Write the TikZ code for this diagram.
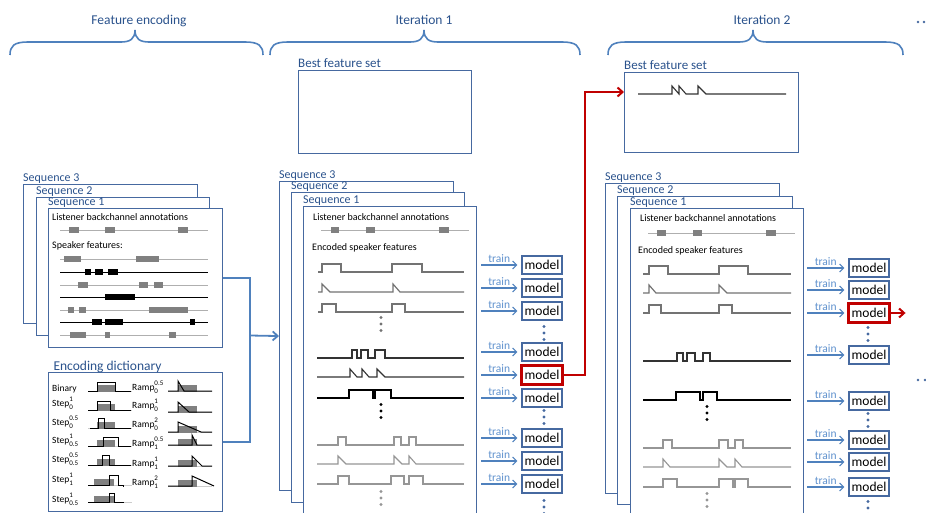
\documentclass[tikz,border=0pt]{standalone}
\usepackage{fontspec}
\setmainfont{Carlito}
\usetikzlibrary{arrows.meta,positioning}

\definecolor{braceblue}{RGB}{79,129,189}
\definecolor{titleblue}{RGB}{42,82,140}
\definecolor{boxblue}{RGB}{70,105,160}
\definecolor{trainblue}{RGB}{95,145,205}
\definecolor{darkred}{RGB}{192,0,0}
\definecolor{bargray}{RGB}{128,128,128}
\definecolor{linegray}{RGB}{175,175,175}
\definecolor{rowgray}{RGB}{115,115,115}
\definecolor{lightrow}{RGB}{150,150,150}

\newcommand\supsub[2]{\makebox[0pt][l]{\raisebox{4.5pt}{\fontsize{7}{8}\selectfont#1}}\raisebox{-3pt}{\fontsize{7}{8}\selectfont#2}}

\begin{document}
\begin{tikzpicture}[x=1pt,y=-1pt,
  brace/.style={draw=braceblue,line width=1.6pt},
  heading/.style={text=titleblue,font=\fontsize{13.5}{16}\selectfont,anchor=base},
  seqbox/.style={draw=boxblue,line width=1.1pt,fill=white,anchor=north west,inner sep=0pt},
  seqlabel/.style={text=titleblue,font=\fontsize{12}{14}\selectfont,anchor=base west,inner sep=0pt},
  boxtext/.style={font=\fontsize{10}{12}\selectfont,anchor=west,inner sep=0pt},
  dicttext/.style={font=\fontsize{9.5}{11}\selectfont,anchor=base west,inner sep=0pt},
  model/.style={draw=boxblue,line width=1.1pt,fill=white,minimum width=40pt,minimum height=18pt,inner sep=1pt,font=\fontsize{13.5}{16}\selectfont},
  chosen/.style={draw=darkred,line width=2.2pt},
  train/.style={draw=braceblue,line width=1.2pt,-{Straight Barb[length=4pt,width=8pt]},shorten >=4pt},
  trainlabel/.style={text=trainblue,font=\fontsize{11.5}{13}\selectfont,above,inner sep=1.5pt,pos=0.45},
  link/.style={draw=braceblue,line width=1.8pt},
  redlink/.style={draw=darkred,line width=2pt,-{Straight Barb[length=5pt,width=9pt]}},
  graysig/.style={draw=rowgray,line width=1.2pt},
  darksig/.style={draw=black!80,line width=1.1pt},
  boldsig/.style={draw=black,line width=1.6pt},
  lightsig/.style={draw=lightrow,line width=1.1pt},
]
\useasboundingbox (0,0) rectangle (926,513);

%Helper macros
\def\topbrace#1#2#3{\draw[brace] (#1,55) .. controls (#1,46) and ({#1+4},42) .. ({#1+18},42) -- ({#2-14},42) .. controls ({#2-5},42) and (#2,39) .. (#2,30) .. controls (#2,39) and ({#2+5},42) .. ({#2+14},42) -- ({#3-18},42) .. controls ({#3-4},42) and (#3,46) .. (#3,55);}
\def\barline#1#2#3#4#5#6{\draw[#4,line width=1pt] (#2,#1) -- (#3,#1);
  \foreach \p/\q in {#6} {\fill[#5] (\p,{#1-2.6}) rectangle (\q,{#1+2.6});}}
\def\steprow#1#2#3#4#5{\draw[#1] (#3,#2) foreach \p/\q in {#5} {-- (\p,#2) -- (\p,{#2-8}) -- (\q,{#2-8}) -- (\q,#2)} -- (#4,#2);}
\def\ramprow#1#2#3#4#5{\draw[#1] (#3,#2) foreach \p/\q in {#5} {-- (\p,#2) -- (\p,{#2-8}) -- (\q,#2)} -- (#4,#2);}
\def\threedots#1#2#3{\foreach \k in {-6.5,0,6.5} {\fill[#1] (#2,{#3+\k}) circle (1.6);}}
\def\dicticon#1#2#3#4#5{\begin{scope}[shift={(#1,#2)}]
  \draw[gray!40,line width=1pt] (0,0) -- (44,0);
  \fill[bargray] (#3,-6) rectangle (#4,1);
  \draw[line width=1pt] #5;
  \end{scope}}

%Headings and braces
\node[heading] (fehead) at (139,25) {Feature encoding};
\node[heading] (it1head) at (424,25) {Iteration 1};
\node[heading] (it2head) at (762,25) {Iteration 2};
\topbrace{10}{135}{263}
\topbrace{270}{424}{580}
\topbrace{608}{753}{903}
\fill[boxblue] (918,22) circle (1.4) (924,22) circle (1.4);

%Feature encoding: sequences
\node[seqbox,minimum width=174pt,minimum height=139pt] (fe3) at (23,184) {};
\node[seqlabel] at ([yshift=2.5pt]fe3.north west) {Sequence 3};
\node[seqbox,minimum width=173pt,minimum height=138pt] (fe2) at (36,197) {};
\node[seqlabel] at ([yshift=2.5pt]fe2.north west) {Sequence 2};
\node[seqbox,minimum width=174pt,minimum height=139pt] (fe1) at (48,208) {};
\node[seqlabel] at ([yshift=2.5pt]fe1.north west) {Sequence 1};
\node[boxtext] (feann) at (52,217) {Listener backchannel annotations};
\barline{230}{60}{208}{linegray}{bargray}{69/79,105/115,178/188}
\node[boxtext] (fespk) at (52,246) {Speaker features:};
\barline{259}{60}{208}{linegray}{bargray}{64/81,136/159}
\barline{272}{60}{208}{black}{black}{85/91,95/103,108/118}
\barline{285}{60}{208}{linegray}{bargray}{78/88,139/148,154/163}
\barline{297}{60}{208}{black}{black}{105/135}
\barline{310}{60}{208}{linegray}{bargray}{68/74,79/86,149/188}
\barline{322}{60}{208}{black}{black}{92/102,105/123,190/195}
\barline{335}{60}{208}{linegray}{bargray}{70/86,105/110,169/176}

%Encoding dictionary
\node[seqbox,minimum width=174pt,minimum height=139pt] (dict) at (48,372) {};
\node[heading,anchor=base west] (dicthead) at (50,370) {Encoding dictionary};
\node[dicttext] at (52,391) {Binary};
\node[dicttext] at (52,406) {Step\supsub{1}{0}};
\node[dicttext] at (52,425) {Step\supsub{0.5}{0}};
\node[dicttext] at (52,443) {Step\supsub{1}{0.5}};
\node[dicttext] at (52,462) {Step\supsub{0.5}{0.5}};
\node[dicttext] at (52,482) {Step\supsub{1}{1}};
\node[dicttext] at (52,502) {Step\supsub{1}{0.5}};
\node[dicttext] at (132,390) {Ramp\supsub{0.5}{0}};
\node[dicttext] at (132,408) {Ramp\supsub{1}{0}};
\node[dicttext] at (132,427) {Ramp\supsub{2}{0}};
\node[dicttext] at (132,446) {Ramp\supsub{0.5}{1}};
\node[dicttext] at (132,466) {Ramp\supsub{1}{1}};
\node[dicttext] at (132,485) {Ramp\supsub{2}{1}};
\dicticon{88}{391}{9}{27}{(0,0) -- (9,0) -- (9,-9) -- (27,-9) -- (27,0) -- (43,0)}
\dicticon{88}{410}{9}{27}{(0,0) -- (9,0) -- (9,-9) -- (22,-9) -- (22,0) -- (43,0)}
\dicticon{88}{428}{9}{27}{(2,0) -- (10,0) -- (10,-10) -- (16,-10) -- (16,0) -- (43,0)}
\dicticon{88}{446}{9}{27}{(0,0) -- (15,0) -- (15,-9) -- (30,-9) -- (30,0) -- (43,0)}
\dicticon{88}{465}{9}{27}{(0,0) -- (14,0) -- (14,-10) -- (21,-10) -- (21,0) -- (43,0)}
\dicticon{88}{485}{6}{26}{(0,0) -- (21,0) -- (21,-10) -- (30,-10) -- (30,0) -- (35,0) -- (35,2)}
\dicticon{88}{502}{6}{26}{(0,0) -- (21,0) -- (21,-9) -- (26,-9) -- (26,0) -- (36,0)}
\dicticon{168}{391}{10}{29}{(0,0) -- (10,0) -- (10,-10) -- (16,0) -- (44,0)}
\dicticon{168}{412}{10}{29}{(0,0) -- (10,0) -- (10,-10) -- (21,0) -- (44,0)}
\dicticon{168}{432}{10}{29}{(0,0) -- (10,0) -- (10,-10) -- (33,0) -- (44,0)}
\dicticon{168}{445}{10}{29}{(0,0) -- (24,0) -- (24,-10) -- (29,0) -- (44,0)}
\dicticon{168}{466}{10}{29}{(0,0) -- (24,0) -- (24,-10) -- (34,0) -- (44,0)}
\dicticon{168}{486}{10}{29}{(0,0) -- (24,0) -- (24,-10) -- (46,0)}

%Iteration 1
\node[seqbox,minimum width=173pt,minimum height=83pt] (best1) at (298,70) {};
\node[seqlabel,font=\fontsize{13}{15}\selectfont] at ([yshift=2pt]best1.north west) {Best feature set};
\node[seqbox,minimum width=174pt,minimum height=309pt] (it1s3) at (279,181) {};
\node[seqlabel] at ([yshift=2.5pt]it1s3.north west) {Sequence 3};
\node[seqbox,minimum width=173pt,minimum height=310pt] (it1s2) at (291,192) {};
\node[seqlabel] at ([yshift=2.5pt]it1s2.north west) {Sequence 2};
\node[seqbox,minimum width=173pt,minimum height=330pt] (it1s1) at (303,206) {};
\node[seqlabel] at ([yshift=2.5pt]it1s1.north west) {Sequence 1};
\node[boxtext] (it1ann) at (313,217) {Listener backchannel annotations};
\barline{230}{321}{469}{linegray}{bargray}{331/339,366/375,439/449}
\node[boxtext] (it1enc) at (312,248) {Encoded speaker features};
\steprow{graysig}{272}{318}{464}{322/341,392/422}
\ramprow{graysig}{292}{318}{464}{322/330,393/400}
\steprow{graysig}{312}{318}{464}{322/336,392/405}
\threedots{rowgray}{381}{324}
\steprow{darksig}{358}{317}{464}{352/357,361/368,375/385}
\ramprow{darksig}{377}{317}{464}{350/357,362/369,377/385}
\steprow{boldsig}{398}{317}{464}{349/373,375/391}
\threedots{black}{381}{411}
\steprow{lightsig}{445}{317}{464}{338/346,394/401,409/416}
\ramprow{lightsig}{464}{317}{464}{338/346,394/402,409/416}
\steprow{lightsig}{484}{317}{464}{338/349,391/404,409/423}
\threedots{lightrow}{381}{498}

%Iteration 1 models
\foreach \y [count=\i] in {265,288,311,352,375,398,438,461,484} {
  \node[model] (m1\i) at (542,\y) {model};
  \coordinate (t1\i) at (481,\y);
  \draw[train] (t1\i) -- node[trainlabel] {train} (m1\i);
}
\draw[chosen] (m15.south west) rectangle (m15.north east);
\threedots{boxblue}{544}{333}
\threedots{boxblue}{544}{417}
\threedots{boxblue}{544}{507}

%Iteration 2
\node[seqbox,minimum width=174pt,minimum height=80pt] (best2) at (624,72) {};
\node[seqlabel,font=\fontsize{13}{15}\selectfont] at ([yshift=2pt]best2.north west) {Best feature set};
\ramprow{darksig}{94}{638}{786}{672/679,679/686,698/706}
\node[seqbox,minimum width=174pt,minimum height=310pt] (it2s3) at (605,183) {};
\node[seqlabel] at ([yshift=2.5pt]it2s3.north west) {Sequence 3};
\node[seqbox,minimum width=175pt,minimum height=308pt] (it2s2) at (617,196) {};
\node[seqlabel] at ([yshift=2.5pt]it2s2.north west) {Sequence 2};
\node[seqbox,minimum width=173pt,minimum height=330pt] (it2s1) at (630,208) {};
\node[seqlabel] at ([yshift=2.5pt]it2s1.north west) {Sequence 1};
\node[boxtext] (it2ann) at (640,218) {Listener backchannel annotations};
\barline{233}{648}{795}{linegray}{bargray}{657/666,693/702,766/776}
\node[boxtext] (it2enc) at (638,251) {Encoded speaker features};
\steprow{graysig}{274}{643}{791}{649/668,719/748}
\ramprow{graysig}{293}{643}{791}{649/656,719/727}
\steprow{graysig}{313}{643}{791}{649/661,719/732}
\steprow{darksig}{361}{643}{791}{677/683,687/695,703/710}
\steprow{boldsig}{400}{643}{791}{676/700,703/717}
\threedots{black}{707}{413}
\steprow{lightsig}{448}{643}{791}{663/672,719/728,735/743}
\ramprow{lightsig}{467}{643}{791}{663/670,719/727,735/742}
\steprow{lightsig}{487}{643}{791}{663/677,719/733,735/748}
\threedots{lightrow}{707}{500}

%Iteration 2 models
\foreach \y [count=\i] in {268,290,313,355,401,440,462,487} {
  \node[model] (m2\i) at (869,\y) {model};
  \coordinate (t2\i) at (807,\y);
  \draw[train] (t2\i) -- node[trainlabel] {train} (m2\i);
}
\draw[chosen] (m23.south west) rectangle (m23.north east);
\threedots{boxblue}{868}{334}
\threedots{boxblue}{868}{420}
\threedots{boxblue}{868}{508}
\fill[boxblue] (918,380) circle (1.4) (925,380) circle (1.4);

%Connectors
\coordinate (split) at (250,335.5);
\draw[link] (fe1.east) -| (split) |- (dict.east);
\draw[link,-{Straight Barb[length=5pt,width=9pt]}] (split) -- (it1s3.west);
\draw[redlink] (m15.east) -- ++(22,0) |- ([yshift=-20pt]best2.north west);
\draw[redlink] (m23.east) -- ++(16,0);
\end{tikzpicture}
\end{document}
